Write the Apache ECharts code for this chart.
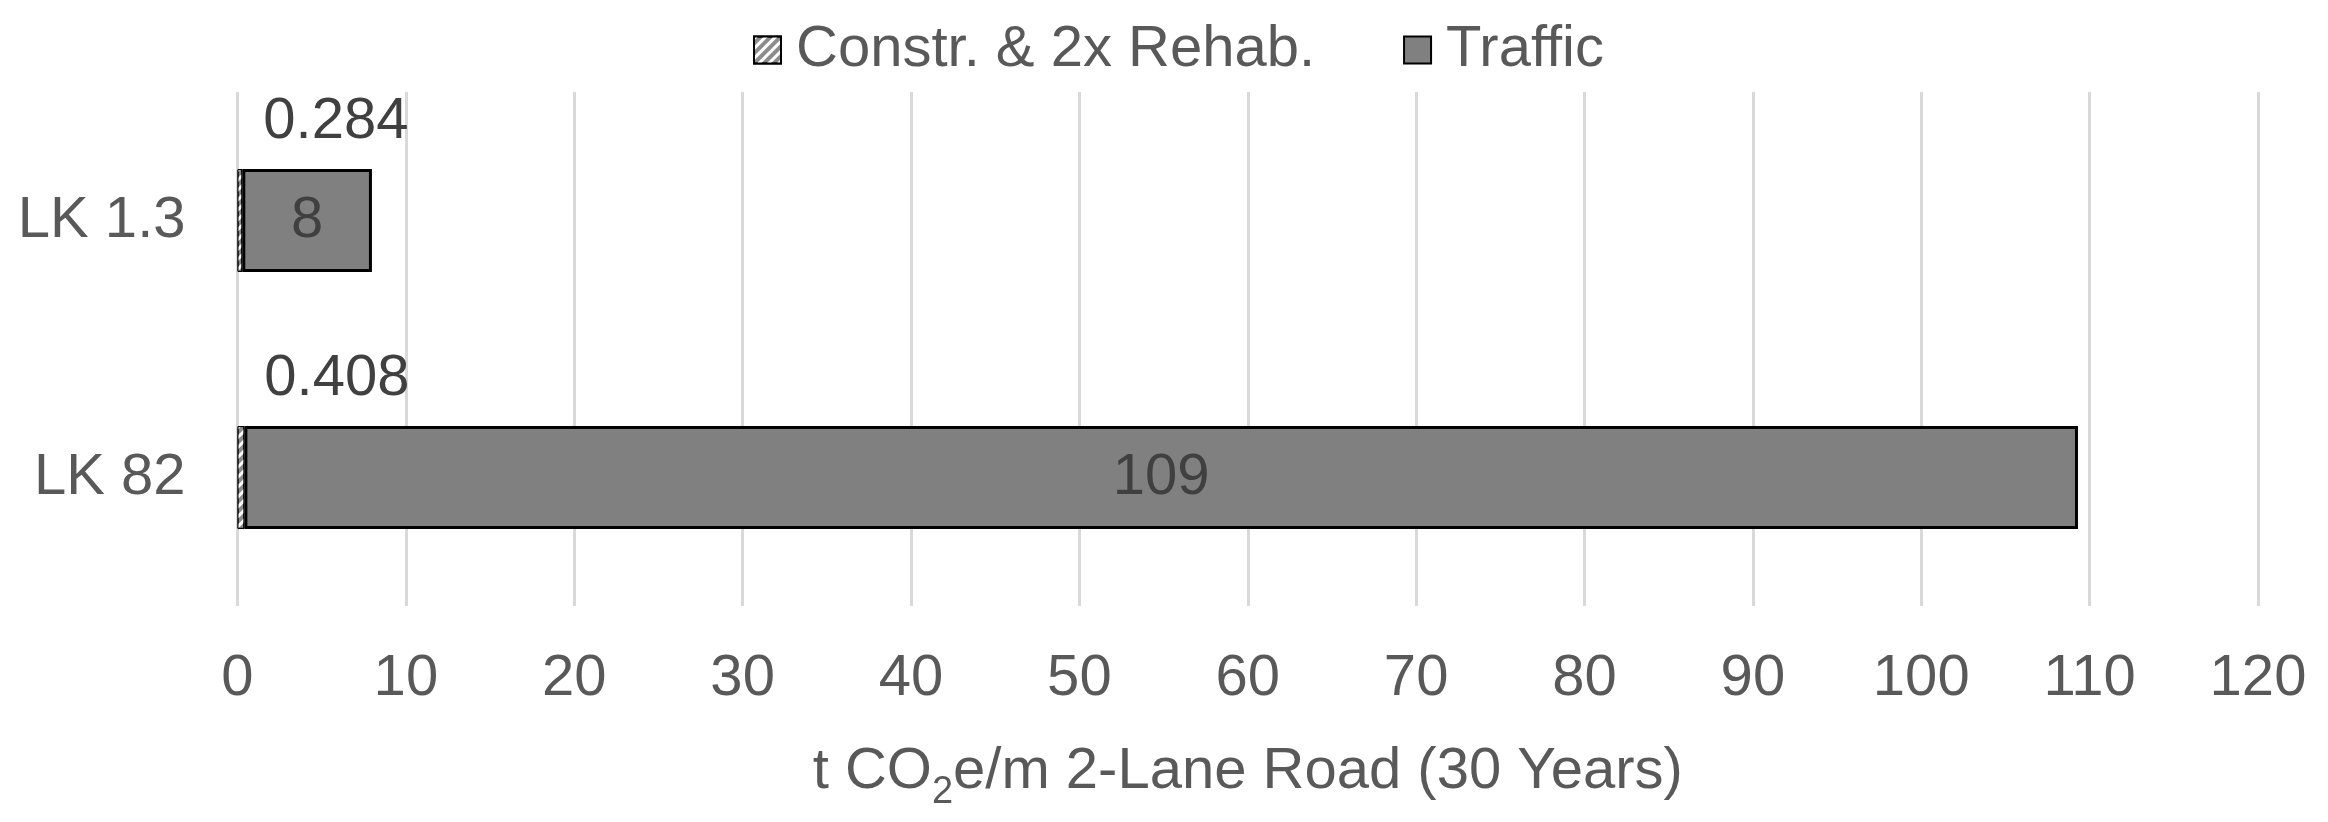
<!DOCTYPE html>
<html>
<head>
<meta charset="utf-8">
<script src="https://cdn.jsdelivr.net/npm/echarts@6/dist/echarts.min.js"></script>
<style>html,body{margin:0;padding:0;background:#fff}#c{width:2328px;height:822px}</style>
</head>
<body>
<div id="c"></div>
<script>
const categories = ['LK 1.3', 'LK 82'];
const constrRehab = [0.284, 0.408];
const traffic = [7.7, 108.9];
const xTicks = [0, 10, 20, 30, 40, 50, 60, 70, 80, 90, 100, 110, 120];
const seriesNames = ['Constr. & 2x Rehab.', 'Traffic'];

const FONT = '"Liberation Sans", Arial, sans-serif';
const chart = echarts.init(document.getElementById('c'), null, {renderer: 'canvas'});
chart.setOption({
  animation: false,
  textStyle: {fontFamily: FONT},
  legend: {
    top: 16,
    left: 748,
    icon: 'rect',
    itemWidth: 27,
    itemHeight: 27,
    itemGap: 88,
    textStyle: {fontSize: 58, color: '#595959', fontFamily: FONT, padding: [0, 0, 0, 10]},
    data: seriesNames
  },
  grid: {left: 237.5, right: 70, top: 92, bottom: 216},
  xAxis: {
    type: 'value',
    min: xTicks[0],
    max: xTicks[xTicks.length - 1],
    interval: 10,
    axisLine: {show: false},
    axisTick: {show: false},
    splitLine: {show: true, lineStyle: {color: '#d9d9d9', width: 3}},
    axisLabel: {fontSize: 58, color: '#595959', margin: 44, fontFamily: FONT},
    name: '{a|t CO}{s|2}{a|e/m 2-Lane Road (30 Years)}',
    nameLocation: 'middle',
    nameGap: 137,
    nameTextStyle: {
      rich: {
        a: {fontSize: 58, color: '#595959', fontFamily: FONT, verticalAlign: 'top', lineHeight: 66},
        s: {fontSize: 38, color: '#595959', fontFamily: FONT, verticalAlign: 'top', lineHeight: 38, padding: [31, 0, 0, 0]}
      }
    }
  },
  yAxis: {
    type: 'category',
    inverse: true,
    data: categories,
    axisLine: {show: false},
    axisTick: {show: false},
    axisLabel: {fontSize: 58, color: '#595959', margin: 52, fontFamily: FONT}
  },
  series: [
    {
      name: seriesNames[0],
      type: 'bar',
      stack: 'total',
      barWidth: '40%',
      data: constrRehab,
      itemStyle: {
        color: '#8c8c8c',
        borderColor: '#000',
        borderWidth: 1,
        decal: {symbol: 'rect', symbolSize: 1, dashArrayX: [1, 0], dashArrayY: [3, 4], rotation: -Math.PI / 4, color: '#ffffff'}
      },
      label: {
        show: true,
        position: 'top',
        distance: 4,
        offset: [96, -14],
        fontSize: 58,
        color: '#404040',
        fontFamily: FONT,
        formatter: p => p.value.toFixed(3)
      }
    },
    {
      name: seriesNames[1],
      type: 'bar',
      stack: 'total',
      barWidth: '40%',
      data: traffic,
      itemStyle: {color: '#808080', borderColor: '#000', borderWidth: 3},
      label: {
        show: true,
        position: 'inside',
        fontSize: 58,
        color: '#404040',
        fontFamily: FONT,
        formatter: p => Math.round(p.value).toString()
      }
    }
  ]
});
</script>
</body>
</html>
